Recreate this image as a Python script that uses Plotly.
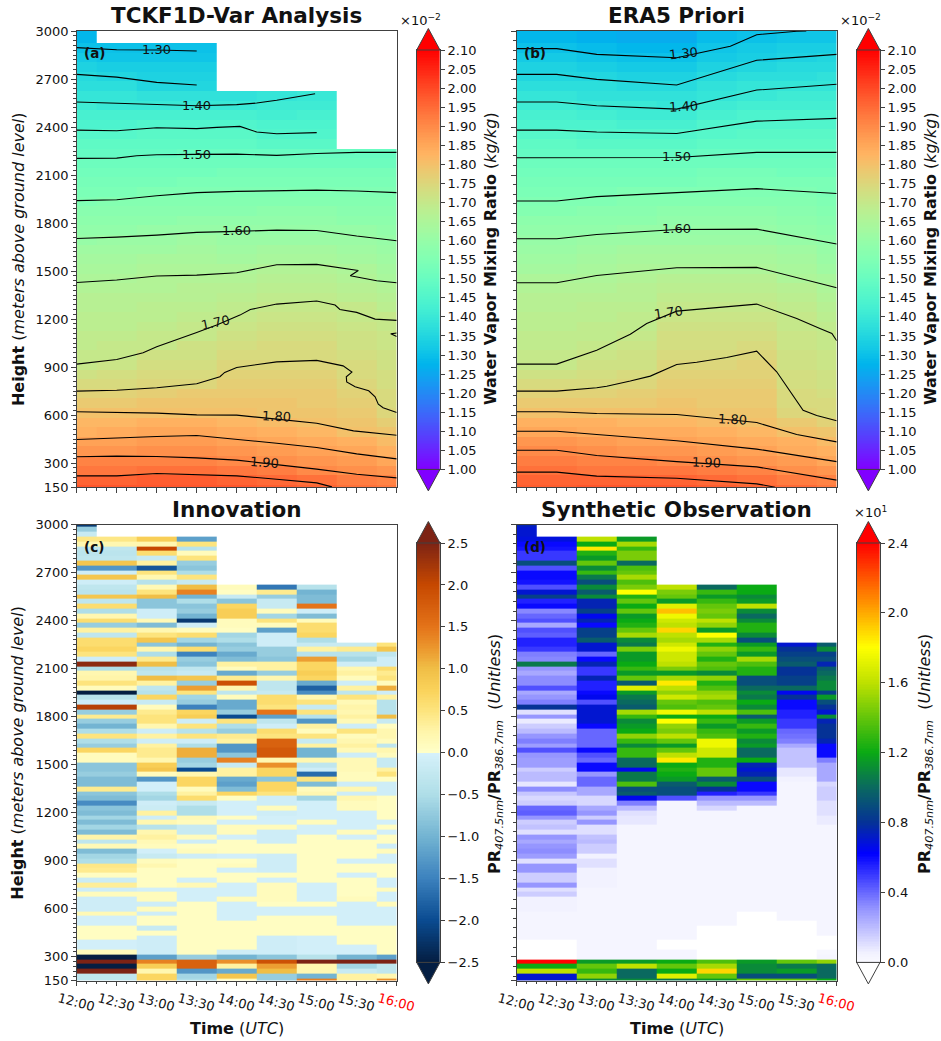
import math
import plotly.graph_objects as go

W, H = 941, 1041
TIME_TICKS = [12, 12.5, 13, 13.5, 14, 14.5, 15, 15.5, 16]
TIME_LABELS = ["12:00", "12:30", "13:00", "13:30", "14:00", "14:30", "15:00", "15:30", "16:00"]
HEIGHT_TICKS = [150, 300, 600, 900, 1200, 1500, 1800, 2100, 2400, 2700, 3000]
TIME_EDGES = [12, 12.25, 12.75, 13.25, 13.75, 14.25, 14.75, 15.25, 15.75, 16]
LEVELS_WV = [1.0, 1.05, 1.1, 1.15, 1.2, 1.25, 1.3, 1.35, 1.4, 1.45, 1.5, 1.55, 1.6, 1.65, 1.7, 1.75, 1.8, 1.85, 1.9, 1.95, 2.0, 2.05, 2.1]
LEVELS_INNOV = [-2.5, -2, -1.5, -1, -0.5, 0, 0.5, 1, 1.5, 2, 2.5]
LEVELS_OBS = [0, 0.4, 0.8, 1.2, 1.6, 2.0, 2.4]

# Panel (a): bottom to top, 60 m layers, per time
A_1200 = [1.98,1.96,1.93,1.91,1.88,1.86,1.83,1.82,1.80,1.78,1.76,1.74,1.72,1.70,1.70,1.69,1.69,1.68,1.68,1.67,1.67,1.66,1.65,1.64,1.63,1.62,1.60,1.59,1.58,1.57,1.55,1.54,1.53,1.52,1.51,1.49,1.48,1.46,1.44,1.43,1.41,1.39,1.37,1.36,1.34,1.32,1.30,1.28]
A_1230 = [1.98,1.96,1.93,1.91,1.88,1.86,1.84,1.82,1.80,1.78,1.76,1.74,1.73,1.71,1.70,1.70,1.69,1.68,1.68,1.67,1.67,1.66,1.65,1.64,1.63,1.62,1.61,1.59,1.58,1.57,1.56,1.54,1.53,1.52,1.51,1.49,1.48,1.46,1.44,1.43,1.40,1.39,1.37,1.35,1.33,1.31,1.30]
A_1300 = [1.98,1.97,1.94,1.91,1.89,1.87,1.85,1.83,1.80,1.79,1.77,1.75,1.74,1.73,1.72,1.70,1.70,1.69,1.68,1.68,1.67,1.66,1.66,1.65,1.64,1.62,1.61,1.60,1.58,1.57,1.56,1.55,1.53,1.52,1.51,1.49,1.48,1.47,1.45,1.43,1.40,1.38,1.35,1.34,1.33,1.31,1.30]
A_1330 = [1.98,1.97,1.94,1.91,1.89,1.87,1.85,1.83,1.80,1.79,1.78,1.75,1.74,1.73,1.72,1.72,1.70,1.70,1.69,1.68,1.67,1.67,1.66,1.65,1.64,1.63,1.62,1.60,1.59,1.57,1.56,1.55,1.54,1.52,1.51,1.50,1.48,1.47,1.45,1.43,1.40,1.38,1.35,1.34,1.33,1.31,1.30]
A_1400 = [1.98,1.96,1.93,1.90,1.88,1.86,1.84,1.82,1.80,1.79,1.78,1.77,1.76,1.75,1.74,1.73,1.72,1.71,1.70,1.69,1.68,1.67,1.66,1.65,1.63,1.62,1.61,1.60,1.59,1.57,1.56,1.55,1.54,1.53,1.51,1.50,1.48,1.47,1.45,1.43,1.40,1.38]
A_1430 = [1.97,1.95,1.92,1.89,1.87,1.85,1.83,1.81,1.79,1.79,1.78,1.77,1.76,1.75,1.74,1.74,1.73,1.72,1.71,1.70,1.69,1.68,1.67,1.66,1.64,1.63,1.61,1.60,1.59,1.58,1.56,1.55,1.54,1.53,1.51,1.50,1.47,1.45,1.44,1.42,1.41,1.39]
A_1500 = [1.96,1.94,1.90,1.88,1.86,1.84,1.82,1.80,1.79,1.78,1.78,1.77,1.76,1.75,1.74,1.74,1.73,1.72,1.71,1.70,1.69,1.68,1.67,1.66,1.64,1.63,1.61,1.60,1.59,1.58,1.56,1.55,1.54,1.53,1.51,1.50,1.47,1.45,1.44,1.43,1.41,1.40]
A_1530 = [1.94,1.92,1.89,1.87,1.85,1.83,1.80,1.79,1.78,1.77,1.76,1.75,1.74,1.74,1.73,1.72,1.72,1.71,1.70,1.70,1.68,1.67,1.66,1.65,1.63,1.62,1.61,1.60,1.58,1.57,1.56,1.55,1.54,1.53,1.51,1.50]
A_1600 = [1.93,1.91,1.88,1.85,1.83,1.81,1.79,1.77,1.75,1.74,1.74,1.73,1.73,1.72,1.72,1.71,1.71,1.70,1.70,1.68,1.67,1.66,1.64,1.63,1.62,1.61,1.60,1.59,1.58,1.57,1.56,1.55,1.54,1.53,1.51,1.50]

# Panel (b)
B_1200 = [1.97,1.96,1.94,1.92,1.90,1.88,1.85,1.83,1.80,1.78,1.76,1.74,1.72,1.70,1.70,1.69,1.69,1.68,1.68,1.67,1.67,1.66,1.65,1.63,1.62,1.61,1.60,1.59,1.58,1.56,1.55,1.54,1.53,1.52,1.51,1.49,1.48,1.46,1.44,1.43,1.41,1.39,1.37,1.35,1.34,1.32,1.30,1.28]
B_1230 = [1.97,1.96,1.94,1.92,1.90,1.88,1.85,1.83,1.80,1.78,1.76,1.74,1.72,1.70,1.70,1.69,1.69,1.68,1.68,1.67,1.67,1.66,1.65,1.63,1.62,1.61,1.60,1.59,1.58,1.56,1.55,1.54,1.53,1.52,1.51,1.49,1.48,1.46,1.44,1.43,1.41,1.39,1.37,1.35,1.34,1.32,1.30,1.28]
B_1300 = [1.98,1.96,1.93,1.91,1.89,1.87,1.84,1.83,1.80,1.78,1.76,1.74,1.73,1.72,1.71,1.70,1.69,1.69,1.68,1.68,1.67,1.66,1.65,1.64,1.63,1.62,1.61,1.59,1.58,1.57,1.55,1.54,1.53,1.52,1.51,1.49,1.47,1.45,1.44,1.42,1.40,1.38,1.37,1.35,1.33,1.31,1.29,1.27]
B_1330 = [1.98,1.96,1.93,1.91,1.88,1.86,1.84,1.82,1.80,1.78,1.77,1.75,1.74,1.72,1.72,1.71,1.70,1.69,1.69,1.68,1.67,1.67,1.66,1.65,1.64,1.63,1.61,1.60,1.58,1.57,1.56,1.55,1.53,1.52,1.51,1.49,1.47,1.45,1.43,1.41,1.40,1.38,1.36,1.34,1.32,1.30,1.28,1.26]
B_1400 = [1.98,1.96,1.93,1.90,1.88,1.86,1.84,1.82,1.80,1.79,1.78,1.77,1.76,1.75,1.74,1.73,1.73,1.72,1.71,1.70,1.69,1.68,1.67,1.65,1.64,1.63,1.61,1.60,1.59,1.58,1.56,1.55,1.53,1.52,1.51,1.49,1.47,1.45,1.43,1.41,1.39,1.38,1.36,1.34,1.32,1.30,1.28,1.26]
B_1430 = [1.97,1.95,1.92,1.89,1.87,1.85,1.83,1.81,1.79,1.78,1.78,1.77,1.76,1.75,1.74,1.73,1.73,1.72,1.71,1.70,1.69,1.68,1.67,1.65,1.64,1.63,1.61,1.60,1.59,1.58,1.56,1.55,1.54,1.53,1.51,1.50,1.48,1.46,1.45,1.43,1.41,1.39,1.38,1.36,1.34,1.32,1.31,1.29]
B_1500 = [1.96,1.94,1.91,1.88,1.86,1.84,1.82,1.80,1.79,1.78,1.78,1.77,1.76,1.76,1.75,1.74,1.73,1.72,1.71,1.70,1.69,1.68,1.67,1.65,1.64,1.63,1.61,1.60,1.59,1.58,1.56,1.55,1.54,1.53,1.51,1.50,1.48,1.47,1.45,1.44,1.42,1.40,1.39,1.37,1.35,1.33,1.32,1.30]
B_1530 = [1.95,1.92,1.89,1.87,1.84,1.83,1.80,1.78,1.75,1.74,1.74,1.73,1.73,1.72,1.72,1.71,1.71,1.70,1.70,1.69,1.68,1.67,1.65,1.64,1.63,1.62,1.60,1.59,1.58,1.57,1.56,1.55,1.54,1.52,1.51,1.50,1.48,1.47,1.45,1.44,1.42,1.41,1.39,1.37,1.36,1.34,1.33,1.31]
B_1600 = [1.93,1.91,1.88,1.85,1.83,1.81,1.79,1.76,1.74,1.74,1.73,1.72,1.72,1.71,1.71,1.70,1.70,1.69,1.68,1.67,1.66,1.65,1.64,1.62,1.61,1.60,1.59,1.58,1.57,1.56,1.55,1.54,1.54,1.52,1.51,1.50,1.48,1.47,1.45,1.44,1.42,1.41,1.39,1.38,1.36,1.35,1.33,1.31]

# Contours panel (a): (time, height)
A130 = [(12,2896),(12.5,2883),(13,2881),(13.5,2875)]
A135 = [(12,2729),(12.5,2712),(13,2679),(13.5,2663)]
A140 = [(12,2556),(12.5,2548),(13,2540),(13.5,2533),(14,2540),(14.25,2550),(14.5,2567),(14.75,2588),(14.98,2608)]
A145 = [(12,2381),(12.5,2377),(13,2396),(13.5,2390),(13.75,2398),(14.04,2404),(14.25,2369),(14.5,2358),(15,2365)]
A150 = [(12,2204),(12.5,2206),(12.75,2221),(13,2227),(13.5,2229),(14,2231),(14.5,2223),(15,2235),(15.5,2242),(16,2242)]
A155 = [(12,1940),(12.5,1946),(13,1971),(13.5,1990),(14,1998),(14.5,2004),(15,2006),(15.5,2000),(16,1990)]
A160 = [(12,1704),(12.5,1712),(13,1725),(13.5,1742),(14,1748),(14.5,1756),(15,1754),(15.5,1719),(16,1690)]
A165 = [(12,1429),(12.5,1444),(13,1469),(13.5,1475),(14,1490),(14.5,1540),(15,1542),(15.52,1504),(15.42,1471),(15.75,1440),(16,1427)]
A170 = [(12,919),(12.5,948),(12.83,990),(13,1027),(13.5,1117),(13.75,1163),(14.04,1225),(14.17,1260),(14.5,1294),(15,1313),(15.23,1288),(15.29,1260),(15.5,1242),(15.73,1200),(16,1192)]
A170B = [(16,1113),(15.925,1108),(16,1092)]
A175 = [(12,750),(12.5,756),(13,771),(13.21,781),(13.5,796),(13.79,840),(13.85,867),(14,898),(14.5,933),(15,942),(15.33,908),(15.44,869),(15.37,840),(15.375,808),(15.48,777),(15.65,752),(15.73,715),(15.77,669),(15.83,646),(16,617)]
A180 = [(12,621),(12.5,619),(13,613),(13.5,602),(14,600),(14.5,575),(15,550),(15.46,502),(16,475)]
A185 = [(12,448),(12.5,458),(13,467),(13.5,473),(14,450),(14.5,425),(15,398),(15.5,358),(16,327)]
A190 = [(12,340),(12.5,344),(13,342),(13.5,333),(14,319),(14.5,292),(15,263),(15.5,231),(16,208)]
A195 = [(12,221),(12.5,221),(13,236),(13.5,227),(14,221),(14.5,200),(15,177),(15.19,152)]

# Contours panel (b)
B130 = [(12,2890),(12.5,2890),(13,2854),(14,2833),(14.67,2905),(15,2977),(15.5,2998),(15.62,3000)]
B135 = [(12,2729),(12.5,2729),(13,2698),(14,2663),(15,2817),(16,2854)]
B140 = [(12,2556),(12.5,2556),(13,2533),(14,2512),(15,2631),(16,2667)]
B145 = [(12,2381),(12.5,2381),(13,2369),(14,2360),(15,2437),(16,2454)]
B150 = [(12,2208),(12.5,2208),(14,2210),(15,2242),(16,2242)]
B155 = [(12,1938),(12.5,1938),(13,1965),(14,1992),(15,2015),(16,1985)]
B160 = [(12,1702),(12.5,1702),(13,1729),(14,1760),(15,1762),(16,1669)]
B165 = [(12,1427),(12.5,1427),(13,1473),(14,1521),(15,1523),(16,1396)]
B170 = [(12,919),(12.5,919),(13,1006),(13.42,1106),(13.625,1173),(14,1250),(15,1294),(15.5,1204),(15.79,1142),(15.94,1110),(16,1065)]
B175 = [(12,750),(12.5,750),(13,771),(13.125,781),(13.42,813),(13.67,844),(14,917),(14.25,931),(14.625,960),(15,1000),(15.25,871),(15.58,631),(15.75,598),(16,565)]
B180 = [(12,621),(12.5,621),(13,610),(14,604),(15,554),(15.5,479),(16,433)]
B185 = [(12,500),(12.5,500),(13,479),(14,440),(15,388),(16,310)]
B190 = [(12,381),(12.5,381),(13,348),(14,310),(15,277),(16,194)]
B195 = [(12,244),(12.5,244),(13,219),(14,206),(15,171),(15.23,150)]

# Contour labels: text, time, height, angle
A_LABELS = [("1.30",13,2882,0),("1.40",13.5,2537,0),("1.50",13.5,2231,0),("1.60",14,1752,0),("1.70",13.74,1177,-12),("1.80",14.5,590,3),("1.90",14.35,306,4)]
B_LABELS = [("1.30",14.08,2860,-6),("1.40",14.08,2527,-3),("1.50",14,2215,0),("1.60",14,1764,0),("1.70",13.9,1240,-8),("1.80",14.7,573,3),("1.90",14.375,304,2)]

# Panel (c): top to bottom, 30 m rows, 3000 m to 150 m
C_TOP_1200 = [-2.2,-.7,-.2]
C_1230 = [None,None,None,
 .45,.2,-.3,-.35,-.3,.9,-1.3,-.1,.9,-.1,
 -.3,-.35,.9,-.3,.6,-.5,.2,.6,-.7,.3,
 -.3,.6,.6,.7,.5,-.1,2.4,-.5,.2,.25,
 .5,.1,-2.5,-.4,-.1,2.1,-.7,.4,-.7,-1,
 -.5,.5,-.5,-.7,.7,.1,.1,-.8,-.8,-.7,
 -.9,-.9,.4,-.8,-.9,-1.4,-.8,-.9,-.6,-.9,
 -.6,-.9,.25,-.3,.15,-.9,-.6,-.5,.45,.4,
 .05,-.15,.35,-.1,.1,-.1,-.1,-.1,.15,-.05,
 -.05,.05,.05,.05,-.05,-.05,.1,-2.5,2.5,-2.5,2.5,-.3,-.3]
C_1300 = [None,None,None,
 .8,.2,2,.6,-.2,.3,-1.9,.5,.2,-.4,
 .15,.5,1,-.8,-.8,-.1,-.1,.15,-.9,.2,
 .5,.9,-.8,.2,-.5,.4,1,-.4,-.3,1,
 .3,-.3,-.4,.7,-.2,.1,.4,.5,.5,.2,
 -.1,.3,-.1,.3,.4,.4,.2,.8,.9,.1,
 -1.3,-.05,-.05,-.5,-.6,-.1,-.15,.3,-.1,.2,
 -.4,.2,.3,.15,.1,-.05,-.2,.1,.2,.05,
 .05,.05,.05,-.05,.1,.1,-.1,.1,-.1,.05,
 .05,-.2,.05,-.1,-.1,-.1,-.1,-1.2,1.4,.8,.2,.7,.7]
C_1330 = [None,None,None,
 -1.2,.5,-.4,.1,.5,-.7,-.8,-.5,.5,-.2,
 1,1.4,-1,-.5,-.8,-.7,-1,-2.2,-.1,.1,
 .6,-.6,-1,.6,-1.5,-.7,-.8,-.3,-.2,.9,
 -.7,1.2,.5,-.6,-.7,-1.5,.7,.8,-.1,.5,
 -.4,.5,-.1,-.5,1.1,1.1,-.7,-.6,-2,.2,
 .7,.7,.1,.3,.6,-.2,-.5,-.5,.15,.1,
 -.2,-.2,.1,-.1,.05,.1,-.1,.05,.05,.05,
 .05,-.05,.15,-.05,-.05,-.05,.05,.05,.05,.05,
 .05,.05,.05,.05,.05,.05,.05,-.7,1.7,1.7,-1.3,-.6,-.5]
C_1400 = [None,None,None,None,None,None,None,None,None,None,None,None,None,
 .1,.05,-.2,-.8,.7,.8,.8,.1,.1,.05,
 -.6,-.5,-.8,-.7,-1.1,-.9,.3,.1,-1.1,.4,
 1.9,.2,-.3,.1,-1.1,-1.1,-.7,-2,.5,-.5,
 -.7,.4,.3,-1.3,-1.3,-.8,1.4,-.2,.3,.3,
 -1.1,-1.2,-.9,.7,.05,-.05,-.05,-.05,.05,-.05,
 .1,.1,-.05,.05,.05,.05,-.05,.05,.1,-.05,
 .05,.05,-.05,-.05,-.05,.1,-.05,-.05,-.05,-.05,
 .05,.05,.05,.05,.05,.05,-.1,-1,1.3,.3,-1.1,.9,.05]
C_1430 = [None,None,None,None,None,None,None,None,None,None,None,None,None,
 -1.6,.4,-.7,-.2,-.2,.1,-.6,.5,.1,-1.2,
 -.1,-.1,-.1,-.7,-.7,-.8,.3,.3,-.7,.2,
 -.3,-.3,-.2,.6,.6,.5,1.5,-1.2,-.3,-.1,
 .6,.5,1.7,1.7,1.8,1.8,.2,1.3,.7,.7,
 -.8,.7,.7,.5,-.1,-.1,.1,-.1,-.05,-.05,
 .1,-.1,-.1,-.1,.05,.05,-.1,-.1,-.1,-.1,
 .05,-.05,.1,.1,.1,.1,.05,-.05,-.05,.05,
 .05,.05,.05,-.1,-.1,-.1,-.1,-.8,1.9,1.2,1,-.7,-.7]
C_1500 = [None,None,None,None,None,None,None,None,None,None,None,None,None,
 -.4,-1,-.9,-.9,1.5,-.1,-.9,.1,.6,.6,
 .7,-.5,-.2,.3,-.4,1.2,.7,.7,.8,.7,
 -1.1,-1.8,-1.4,.2,.5,-.2,.5,-.4,-1.3,.3,
 .1,.5,-.2,.3,-1,-1,.2,-.3,-.1,-1.7,
 .5,-.9,.1,.2,-.6,-.05,-.05,-.05,-.05,.1,
 -.05,-.05,.05,.05,.05,.05,.05,.05,.05,.05,
 .05,.05,-.05,-.05,-.05,-.05,.05,-.05,-.05,.05,
 .05,.05,.05,-.05,-.05,-.05,-.05,-.4,2.5,.2,.2,-1,1.4]
C_1530 = [None,None,None,None,None,None,None,None,None,None,None,None,None,None,None,None,None,None,None,None,None,None,None,None,None,
 -.2,.4,-.4,-.6,-.1,.2,.3,.1,
 -.1,.3,-.3,.5,.15,.25,.2,.3,.15,-.1,
 .5,.1,.2,.3,.15,-.1,.15,.15,.15,.1,
 .1,-.1,.2,-.1,.2,.1,.1,-.05,-.05,-.05,
 -.05,.1,-.05,.05,.05,.05,.05,-.05,.05,.05,
 -.05,.05,.05,.05,.05,.1,-.05,-.05,-.05,-.05,
 -.05,.05,.05,.05,.05,-.05,-.05,-1,2.5,-.6,-.2,.3,.3]
C_1600 = [None,None,None,None,None,None,None,None,None,None,None,None,None,None,None,None,None,None,None,None,None,None,None,None,None,
 .5,.9,-.3,-.1,-.1,.6,.4,.5,
 .1,1.1,-.1,.3,-.4,-.4,-.4,1,-.2,.05,
 .2,.2,.1,-.3,.2,.1,-.2,-.2,.3,.5,
 .05,-.1,-.1,-.1,.05,.05,.05,.05,.05,-.05,
 .05,-.05,.05,.05,-.1,.1,-.05,-.05,.05,.05,
 .05,-.05,-.05,.1,-.05,-.05,.1,-.05,-.05,-.05,
 -.05,.05,.05,.05,.05,.05,.05,-1.2,2.5,-.3,-.3,.2,1.3]

# Panel (d)
D_TOP_1200 = [.75,.7,.7]
D_1230 = [None,None,None,
 .68,.6,.58,.5,.5,.9,.45,.6,.6,.58,
 .45,.7,.85,.55,.6,.33,.4,.45,.25,.45,
 .42,.55,.55,.5,.35,.33,1.05,.3,.25,.32,
 .32,.45,.25,.3,.35,.8,.1,.3,.07,.15,
 .2,.3,.35,.28,.45,.3,.28,.28,.15,.2,
 .2,.08,.32,.17,.12,.15,.4,.42,.3,.15,
 .18,.1,.3,.25,.3,.32,.28,.1,.3,.3,
 .15,.15,.3,.1,.15,.05,.05,.05,.03,.03,
 .03,.03,.03,.03,0,0,0,0,2.4,1.2,1.6,.7,.7]
D_1300 = [None,None,None,
 1.6,1.2,1.85,1.25,1.15,1.4,1.1,1.3,1.05,.9,
 1.1,.95,1.1,.75,.75,.85,.65,.75,.6,.85,
 .85,.95,.7,.7,.4,.6,.75,.5,.5,.75,
 .55,.55,.6,.65,.45,.7,.7,.7,.7,.6,
 .4,.4,.4,.4,.6,.45,.4,.6,.6,.3,
 .4,.4,.25,.25,.12,.12,.25,.3,.15,.3,
 .1,.1,.18,.2,.15,.15,.05,.1,.1,.05,
 .05,.05,.05,.03,.03,.03,.03,.03,.03,.03,
 .03,.03,.03,.03,.03,.03,.03,.03,1.15,1.4,1.3,1.5,1.1]
D_1330 = [None,None,None,
 1.15,1.55,1.3,1.45,1.45,1,1.35,1.4,1.55,1.35,
 1.45,1.8,1.25,1.4,1.2,1.4,1.15,1.2,1.25,1.4,
 1.55,1.1,1.05,1.45,1.15,1.15,1.2,1.3,1.15,1.4,
 .95,1.7,1.15,1.05,1,.95,1.55,1.3,1.1,1.15,
 1.2,1.5,1.3,1.1,1.3,1.3,1,1,.65,1.05,
 1.05,1.35,.9,.95,.65,.35,.2,.1,.08,.08,
 .03,.03,.03,.03,.03,.03,.03,.03,.03,.03,
 .03,.03,.03,.03,.03,.03,.03,.03,.03,.03,
 .03,.03,.03,.03,.03,.03,.03,.03,1.15,1.6,1,1,1.1]
D_1400 = [None,None,None,None,None,None,None,None,None,None,None,None,None,
 1.6,1.45,1.4,1.15,1.7,1.95,1.75,1.65,1.6,1.9,
 1.6,1.55,1.65,1.75,1.65,1.65,1.6,1.45,1.15,1.55,
 1.85,1.6,1.5,1.65,1.4,1.35,1.75,1.2,1.8,1.5,
 1.45,1.6,1.4,1.15,1.4,1.6,1.85,1.2,1.25,1.2,
 1.15,.95,.9,.9,.45,.03,.03,.03,.03,.03,
 .03,.03,.03,.03,.03,.03,.03,.03,.03,.03,
 .03,.03,.03,.03,.03,.03,.03,.03,.03,.03,
 .03,.03,.03,.03,0,0,.03,.03,1.2,1.4,1.2,1.7,1.05]
D_1430 = [None,None,None,None,None,None,None,None,None,None,None,None,None,
 1,1.3,1.15,1.3,1.4,1.45,1.4,1.6,1.5,1.15,
 1.8,1.55,1.25,1.5,1.4,1.25,1.4,1.35,1.1,1.5,
 1.25,1.35,1.5,1.55,1.35,1.4,1.6,1.2,1.3,1.15,
 1.3,1.35,1.75,1.75,1.65,1.65,1.25,1.25,1.4,1.4,
 .95,1.1,.8,.55,.3,.2,.12,.03,.03,.03,
 .03,.03,.03,.03,.03,.03,.03,.03,.03,.03,
 .03,.03,.03,.03,.03,.03,.03,.03,.03,.03,
 .03,0,0,0,0,0,0,0,1.35,1.55,1.9,1.4,1.15]
D_1500 = [None,None,None,None,None,None,None,None,None,None,None,None,None,
 1.2,1.2,1.1,1.15,1.6,1.1,1,1.1,1.25,1.25,
 1.1,.9,1.15,1.3,1.15,1.55,1.35,1.25,1.25,.9,
 .9,1,1.1,1.05,1.2,1.1,1.35,.95,1.15,1.3,
 1.15,1.25,1.1,1.15,1,1,1.2,.75,.7,.75,
 .9,.6,.6,.5,.3,.2,.03,.03,.03,.03,
 .03,.03,.03,.03,.03,.03,.03,.03,.03,.03,
 .03,.03,.03,.03,.03,.03,.03,.03,0,0,
 0,0,0,0,0,0,0,0,1.15,1.1,1.1,.9,1.4]
D_1530 = [None,None,None,None,None,None,None,None,None,None,None,None,None,None,None,None,None,None,None,None,None,None,None,None,None,
 .7,.8,.85,.9,.95,.8,.8,.85,
 .85,1,.65,.8,.6,.6,.55,.55,.5,.5,
 .4,.38,.35,.25,.18,.18,.18,.18,.08,.08,
 .05,.03,.03,.03,.03,.03,.03,.03,.03,.03,
 .03,.03,.03,.03,.03,.03,.03,.03,.03,.03,
 .03,.03,.03,.03,.03,.03,.03,.03,.03,.03,
 0,0,0,0,0,0,0,0,1.4,1.05,1.15,.9,1.4]
D_1600 = [None,None,None,None,None,None,None,None,None,None,None,None,None,None,None,None,None,None,None,None,None,None,None,None,None,
 .95,1.1,.85,.9,.75,.95,1,1.05,
 1.1,1.1,.85,1.15,.9,.8,.7,1.1,.75,.8,
 .8,.8,.75,.6,.6,.6,.35,.25,.25,.25,
 .25,.12,.15,.15,.15,.1,.1,.1,.07,.07,
 .03,.03,.03,.03,.03,.03,.03,.03,.03,.03,
 .03,.03,.03,.03,.03,.03,.03,.03,.03,.03,
 .03,.03,.03,0,0,0,.01,.03,1.5,1,1,1,1.2]


def px(x):
    return x / W


def py(y):
    return 1 - y / H


def rainbow_scale(n=40):
    out = []
    for i in range(n + 1):
        v = i / n
        r = min(abs(2 * v - 0.5), 1)
        g = math.sin(math.pi * v)
        b = math.cos(math.pi * v / 2)
        out.append([v, f"rgb({round(r*255)},{round(g*255)},{round(b*255)})"])
    return out


def value_scale(stops, lo, hi):
    return [[(v - lo) / (hi - lo), c] for v, c in stops]


INNOV_SCALE = value_scale([
    (-2.5, "rgb(4,30,66)"), (-2.0, "rgb(10,75,145)"), (-1.5, "rgb(60,130,190)"), (-1.0, "rgb(115,180,210)"),
    (-0.5, "rgb(175,222,232)"), (-0.25, "rgb(195,232,240)"), (-0.001, "rgb(214,241,251)"),
    (0.001, "rgb(255,255,200)"), (0.25, "rgb(255,245,170)"), (0.5, "rgb(253,228,125)"), (0.75, "rgb(250,210,90)"),
    (1.0, "rgb(240,190,70)"), (1.25, "rgb(235,150,45)"), (1.5, "rgb(228,115,25)"), (2.0, "rgb(198,72,0)"),
    (2.5, "rgb(125,35,20)")], -2.5, 2.5)
OBS_SCALE = value_scale([
    (0, "rgb(255,255,255)"), (0.005, "rgb(248,248,255)"), (0.05, "rgb(242,242,255)"), (0.3, "rgb(150,150,255)"), (0.62, "rgb(0,0,255)"),
    (0.8, "rgb(5,50,150)"), (1.0, "rgb(10,105,95)"), (1.2, "rgb(10,170,20)"), (1.6, "rgb(190,225,0)"),
    (1.8, "rgb(255,255,0)"), (2.0, "rgb(255,170,0)"), (2.4, "rgb(255,0,0)")], 0, 2.4)

FONT = "DejaVu Sans"
INK = "#111111"
AXIS = "#404040"
PANEL_L = [76.7, 516.7]
PANEL_W = 320
PANEL_T = [31, 524.6]
PANEL_H = 456.2
CBAR_L = [416.7, 856.7]
CBAR_W = 23.3
CB_TOP = [50, 543]
CB_LEN = 419.4

layer_edges = [150, 165] + [225 + 60 * i for i in range(46)] + [3000]
row_edges = [150] + [165 + 30 * i for i in range(94)] + [2985, 3000]


def pad(col, n=48):
    return list(col) + [None] * (n - len(col))


def columns_to_z(cols):
    return [[col[r] for col in cols] for r in range(len(cols[0]))]


z_a = columns_to_z([pad(c) for c in [A_1200, A_1230, A_1300, A_1330, A_1400, A_1430, A_1500, A_1530, A_1600]])
z_b = columns_to_z([pad(c) for c in [B_1200, B_1230, B_1300, B_1330, B_1400, B_1430, B_1500, B_1530, B_1600]])
C_1200 = C_TOP_1200 + C_1230[3:]
D_1200 = D_TOP_1200 + D_1230[3:]
for col in [C_1200, C_1230, C_1300, C_1330, C_1400, C_1430, C_1500, C_1530, C_1600,
            D_1200, D_1230, D_1300, D_1330, D_1400, D_1430, D_1500, D_1530, D_1600]:
    assert len(col) == 96, len(col)
z_c = columns_to_z([c[::-1] for c in [C_1200, C_1230, C_1300, C_1330, C_1400, C_1430, C_1500, C_1530, C_1600]])
z_d = columns_to_z([c[::-1] for c in [D_1200, D_1230, D_1300, D_1330, D_1400, D_1430, D_1500, D_1530, D_1600]])

fig = go.Figure()
RAINBOW = rainbow_scale()
fig.add_trace(go.Heatmap(z=z_a, x=TIME_EDGES, y=layer_edges, zmin=1.0, zmax=2.1, colorscale=RAINBOW,
                         showscale=False, xaxis="x", yaxis="y", hoverinfo="skip"))
fig.add_trace(go.Heatmap(z=z_b, x=TIME_EDGES, y=layer_edges, zmin=1.0, zmax=2.1, colorscale=RAINBOW,
                         showscale=False, xaxis="x2", yaxis="y2", hoverinfo="skip"))
fig.add_trace(go.Heatmap(z=z_c, x=TIME_EDGES, y=row_edges, zmin=-2.5, zmax=2.5, colorscale=INNOV_SCALE,
                         showscale=False, xaxis="x3", yaxis="y3", hoverinfo="skip"))
fig.add_trace(go.Heatmap(z=z_d, x=TIME_EDGES, y=row_edges, zmin=0, zmax=2.4, colorscale=OBS_SCALE,
                         showscale=False, xaxis="x4", yaxis="y4", hoverinfo="skip"))

for line in [A130, A135, A140, A145, A150, A155, A160, A165, A170, A170B, A175, A180, A185, A190, A195]:
    fig.add_trace(go.Scatter(x=[p[0] for p in line], y=[p[1] for p in line], mode="lines",
                             line=dict(color="black", width=1.1), xaxis="x", yaxis="y",
                             showlegend=False, hoverinfo="skip"))
for line in [B130, B135, B140, B145, B150, B155, B160, B165, B170, B175, B180, B185, B190, B195]:
    fig.add_trace(go.Scatter(x=[p[0] for p in line], y=[p[1] for p in line], mode="lines",
                             line=dict(color="black", width=1.1), xaxis="x2", yaxis="y2",
                             showlegend=False, hoverinfo="skip"))

# Colour keys: small heatmaps on their own axes
CBAR_SPECS = [(1.0, 2.1, RAINBOW, LEVELS_WV, ".2f"), (1.0, 2.1, RAINBOW, LEVELS_WV, ".2f"),
              (-2.5, 2.5, INNOV_SCALE, LEVELS_INNOV, ".1f"), (0, 2.4, OBS_SCALE, LEVELS_OBS, ".1f")]
for n, (lo, hi, scale, _, _) in enumerate(CBAR_SPECS):
    steps = 256
    ramp_edges = [lo + (hi - lo) * s / steps for s in range(steps + 1)]
    ramp = [[lo + (hi - lo) * (s + 0.5) / steps] for s in range(steps)]
    fig.add_trace(go.Heatmap(z=ramp, x=[0, 1], y=ramp_edges, zmin=lo, zmax=hi, colorscale=scale, showscale=False,
                             xaxis=f"x{n + 5}", yaxis=f"y{n + 5}", hoverinfo="skip"))

annotations = []


def note(text, x, y, size, angle=0, color=INK, xanchor="center", yanchor="middle", xref="paper", yref="paper"):
    annotations.append(dict(text=text, x=x, y=y, xref=xref, yref=yref, showarrow=False, textangle=angle,
                            xanchor=xanchor, yanchor=yanchor, font=dict(family=FONT, size=size, color=color)))


for labels, left in [(A_LABELS, PANEL_L[0]), (B_LABELS, PANEL_L[1])]:
    for t, tx, ty, ang in labels:
        lx = left + (tx - 12) / 4 * PANEL_W
        ly = PANEL_T[0] + (3000 - ty) / 2850 * PANEL_H
        note(t, px(lx), py(ly), 13, angle=ang)

titles = ["TCKF1D-Var Analysis", "ERA5 Priori", "Innovation", "Synthetic Observation"]
tags = ["(a)", "(b)", "(c)", "(d)"]
for n in range(4):
    i, j = n % 2, n // 2
    cx = PANEL_L[i] + PANEL_W / 2
    note(f"<b>{titles[n]}</b>", px(cx), py(PANEL_T[j] - 15.5), 21.5)
    note(f"<b>{tags[n]}</b>", px(PANEL_L[i] + 5), py(PANEL_T[j] + 22), 13.5, xanchor="left")
for j in range(2):
    note("<b>Height</b> (<i>meters above ground level</i>)", px(18), py(PANEL_T[j] + PANEL_H / 2), 16, angle=-90)
for i in range(2):
    note("<b>Time</b> (<i>UTC</i>)", px(PANEL_L[i] + PANEL_W / 2), py(1028), 16)
note("<b>Water Vapor Mixing Ratio</b> (<i>kg/kg</i>)", px(491), py(259), 16, angle=-90)
note("<b>Water Vapor Mixing Ratio</b> (<i>kg/kg</i>)", px(931), py(259), 16, angle=-90)
pr = "<b>PR</b><sub><i>407.5nm</i></sub><b>/PR</b><sub><i>386.7nm</i></sub>  (<i>Unitless</i>)"
note(pr, px(495), py(754), 16, angle=-90)
note(pr, px(925), py(754), 16, angle=-90)
note("\u00d710<sup>\u22122</sup>", px(420), py(20), 13)
note("\u00d710<sup>\u22122</sup>", px(860), py(20), 13)
note("\u00d710<sup>1</sup>", px(870), py(512), 13)

shapes = []
END_COLORS = [["rgb(255,0,0)", "rgb(128,0,255)"], ["rgb(255,0,0)", "rgb(128,0,255)"],
              ["rgb(125,35,20)", "rgb(4,30,66)"], ["rgb(255,0,0)", "rgb(255,255,255)"]]
for n in range(4):
    i, j = n % 2, n // 2
    l, r = CBAR_L[i], CBAR_L[i] + CBAR_W
    m = (l + r) / 2
    t, b = CB_TOP[j], CB_TOP[j] + CB_LEN
    for (base, apex, col) in [(t, t - 21.5, END_COLORS[n][0]), (b, b + 21.5, END_COLORS[n][1])]:
        shapes.append(dict(type="path", xref="paper", yref="paper",
                           path=f"M {px(l)},{py(base)} L {px(m)},{py(apex)} L {px(r)},{py(base)} Z",
                           fillcolor=col, line=dict(color=AXIS, width=1)))

tick_text = TIME_LABELS[:-1] + ['<span style="color:red">16:00</span>']
layout = dict(width=W, height=H, margin=dict(l=0, r=0, t=0, b=0, autoexpand=False), autosize=False, paper_bgcolor="white",
              plot_bgcolor="white", showlegend=False, annotations=annotations, shapes=shapes,
              font=dict(family=FONT, color=INK))
TICKFONT = dict(family=FONT, size=13, color=INK)
for n in range(4):
    i, j = n % 2, n // 2
    suffix = "" if n == 0 else str(n + 1)
    layout["xaxis" + suffix] = dict(
        domain=[px(PANEL_L[i]), px(PANEL_L[i] + PANEL_W)], range=[12, 16], anchor="y" + suffix,
        tickmode="array", tickvals=TIME_TICKS, ticktext=tick_text, tickangle=15, showticklabels=j == 1,
        ticks="outside", ticklen=4.5, tickwidth=1, tickcolor=AXIS, showline=True, linecolor=AXIS, linewidth=1,
        mirror=True, showgrid=False, zeroline=False, tickfont=TICKFONT, ticklabelshift=-18, ticklabelstandoff=0,
        minor=dict(dtick=0.125, tick0=12, ticks="outside", ticklen=2.5, tickwidth=1, tickcolor=AXIS, showgrid=False),
    )
    layout["yaxis" + suffix] = dict(
        domain=[py(PANEL_T[j] + PANEL_H), py(PANEL_T[j])], range=[150, 3000], anchor="x" + suffix,
        tickmode="array", tickvals=HEIGHT_TICKS, showticklabels=i == 0,
        ticks="outside", ticklen=4.5, tickwidth=1, tickcolor=AXIS, showline=True, linecolor=AXIS, linewidth=1,
        mirror=True, showgrid=False, zeroline=False, tickfont=TICKFONT,
        minor=dict(dtick=30 if i == 0 else 60, tick0=0, ticks="outside", ticklen=2.5, tickwidth=1, tickcolor=AXIS, showgrid=False),
    )
    lo, hi, _, levels, fmt = CBAR_SPECS[n]
    cb = str(n + 5)
    layout["xaxis" + cb] = dict(
        domain=[px(CBAR_L[i]), px(CBAR_L[i] + CBAR_W)], range=[0, 1], anchor="y" + cb, showticklabels=False,
        ticks="", showline=True, linecolor=AXIS, linewidth=1, mirror=True, showgrid=False, zeroline=False,
    )
    layout["yaxis" + cb] = dict(
        domain=[py(CB_TOP[j] + CB_LEN), py(CB_TOP[j])], range=[lo, hi], anchor="x" + cb, side="right",
        tickmode="array", tickvals=levels, ticktext=[format(v, fmt).replace("-", "\u2212") for v in levels],
        ticks="outside", ticklen=4, tickwidth=1, tickcolor=AXIS, showline=True, linecolor=AXIS, linewidth=1,
        mirror=True, showgrid=False, zeroline=False, tickfont=TICKFONT,
    )
fig.update_layout(**layout)
fig.write_html("out.html", config={"displayModeBar": False},
               post_script="document.body.style.margin='0';document.documentElement.style.overflow='hidden';")
